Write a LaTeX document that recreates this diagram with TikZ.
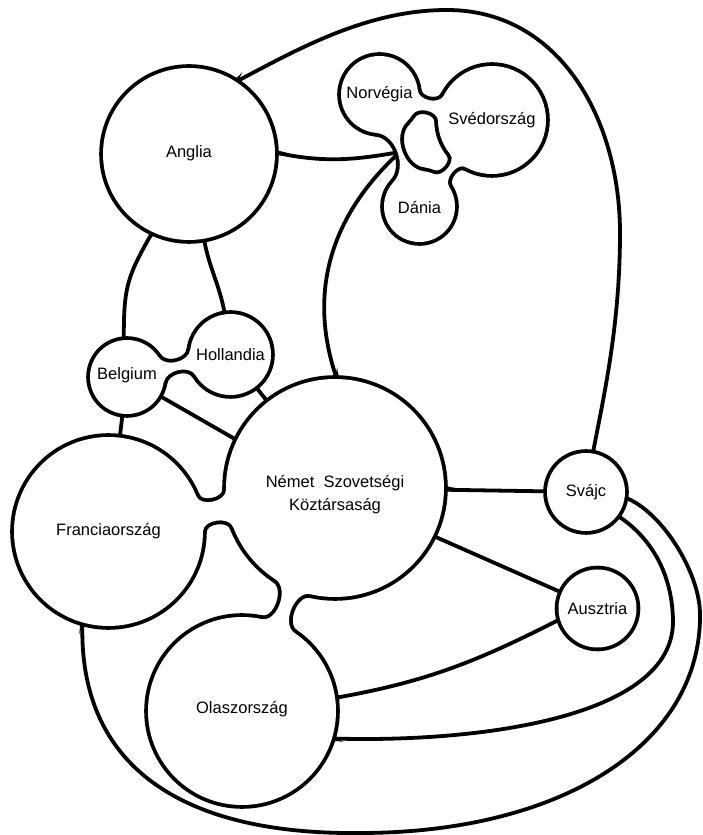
\documentclass[tikz,border=0pt]{standalone}
\usepackage{fontspec}
\setmainfont{Liberation Sans}
\usetikzlibrary{calc}

\pgfdeclarelayer{ink}
\pgfdeclarelayer{paper}
\pgfsetlayers{ink,paper,main}

\newcommand\rimw{3.8}

%% black wedge where a line leaves a circle
\newcommand\fillet[2]{%
        \fill ($(#1.#2)+(#2+90:8)+(#2:-3)$) .. controls ($(#1.#2)+(#2:2.5)+(#2+90:1.3)$) .. ($(#1.#2)+(#2:12)$)
              .. controls ($(#1.#2)+(#2:2.5)+(#2-90:1.3)$) .. ($(#1.#2)+(#2-90:8)+(#2:-3)$) -- cycle;}

%% circle: [text shift], name, centre, radius, text
\newcommand\country[5][0]{%
        \node [land, minimum size=2*#4] (#2) at (#3) {};
        \node [caption] (#2-text) at ($(#2)+(0,#1)$) {#5};
        \begin{pgfonlayer}{ink}\draw [rim] (#2.center) circle (#4);\end{pgfonlayer}
        \begin{pgfonlayer}{paper}\fill [white] (#2.center) circle (#4);\end{pgfonlayer}}

%% narrow waist between two circles: a, b, angle a->b, half angle on a, half angle on b
\newcommand\neck[5]{%
        \pgfmathtruncatemacro\pa{#3+#4}\pgfmathtruncatemacro\pb{#3-#4}%
        \pgfmathtruncatemacro\qa{#3+180-#5}\pgfmathtruncatemacro\qb{#3+180+#5}%
        \pgfmathtruncatemacro\oa{#3+#4-90}\pgfmathtruncatemacro\ia{#3+270-#5}%
        \pgfmathtruncatemacro\ob{#3+90+#5}\pgfmathtruncatemacro\ib{#3-#4+90}%
        \begin{pgfonlayer}{ink}
        \draw [rim] (#1.\pa) to[out=\oa, in=\ia] (#2.\qa) -- (#2.\qb) to[out=\ob, in=\ib] (#1.\pb) -- cycle;
        \end{pgfonlayer}
        \begin{pgfonlayer}{paper}
        \fill [white] (#1.\pa) to[out=\oa, in=\ia] (#2.\qa) -- (#2.\qb) to[out=\ob, in=\ib] (#1.\pb) -- cycle;
        \end{pgfonlayer}}

\begin{document}
\begin{tikzpicture}[x=1pt, y=1pt,
        land/.style={circle, inner sep=0pt, outer sep=0pt},
        caption/.style={align=center, inner sep=0pt, font=\fontsize{16.5}{23}\selectfont},
        rim/.style={line width=2*\rimw pt, line join=round},
        link/.style={line width=\rimw pt}]

        \useasboundingbox (0,0) rectangle (703,835);
        \begin{pgfonlayer}{ink}\fill [white] (0,0) rectangle (703,835);\end{pgfonlayer}

        %% orszagok
        \country[1]{anglia}{189,681}{86}{Anglia}
        \country{norvegia}{379.5,740.5}{38.5}{Norvégia}
        \country{svedo}{492,715}{54}{Svédország}
        \country[-1]{dania}{419.5,628.5}{35.5}{Dánia}
        \country{hollandia}{230.5,480.5}{40.5}{Hollandia}
        \country[2]{belgium}{127,458}{37}{Belgium}
        \country{francia}{108.5,303.5}{94.5}{Franciaország}
        \country[-7]{nemet}{335,347}{109}{Német\ \ Szovetségi\\Köztársaság}
        \country{svajc}{586,343}{39}{Svájc}
        \country{ausztria}{597.5,226.5}{39}{Ausztria}
        \country[2]{olasz}{242,124}{94}{Olaszország}

        %% osszenott szomszedok
        \neck{belgium}{hollandia}{12}{21}{19}
        \neck{francia}{nemet}{11}{11}{10}
        \neck{nemet}{olasz}{-113}{10}{11}
        \neck{norvegia}{svedo}{-13}{19}{14}
        \neck{norvegia}{dania}{-70}{25}{27}
        \neck{svedo}{dania}{-130}{11}{17}

        \coordinate (skand) at (400,683);

        \begin{pgfonlayer}{ink}
        %% vonalak
        \draw [link] (anglia.57) .. controls (298,786) and (367,825) .. (447,825)
                .. controls (560,825) and (620,715) .. (620,602)
                .. controls (620,510) and (604,440) .. (svajc.80);
        \draw [link] (anglia.1) to[out=-12, in=190] (skand);
        \draw [link] (skand) .. controls (333,622) and (306,545) .. (nemet.89);
        \draw [link] (anglia.-115) to[out=-120, in=90, looseness=1.2] (belgium.95);
        \draw [link] (anglia.-80) to[out=-80, in=100] (hollandia.98);
        \draw [link] (belgium) -- (francia);
        \draw [link] (belgium.-30) -- (nemet.154);
        \draw [link] (hollandia) -- (nemet);
        \draw [link] (nemet) -- (svajc);
        \draw [link] (nemet.-26) -- (ausztria.156);
        \draw [link] (olasz.8) to[out=10, in=207] (ausztria.196);
        \draw [link] (olasz.-17) .. controls (470,92) and (675,115) .. (673,215)
                .. controls (672,265) and (648,300) .. (svajc.-37);
        \draw [link] (francia.-106) .. controls (78,70) and (180,0) .. (360,2)
                .. controls (560,2) and (702,90) .. (700,222)
                .. controls (699,265) and (660,325) .. (svajc.-8);

        %% fekete sarkok
        \fillet{anglia}{57}
        \fillet{anglia}{1}
        \fillet{anglia}{-115}
        \fillet{anglia}{-80}
        \fillet{nemet}{89}
        \fillet{nemet}{128}
        \fillet{nemet}{154}
        \fillet{nemet}{0}
        \fillet{nemet}{-26}
        \fillet{francia}{83}
        \fillet{francia}{-106}
        \fillet{olasz}{8}
        \fillet{olasz}{-17}
        \fillet{belgium}{-97}
        \fillet{hollandia}{-52}
        \end{pgfonlayer}

\end{tikzpicture}
\end{document}
